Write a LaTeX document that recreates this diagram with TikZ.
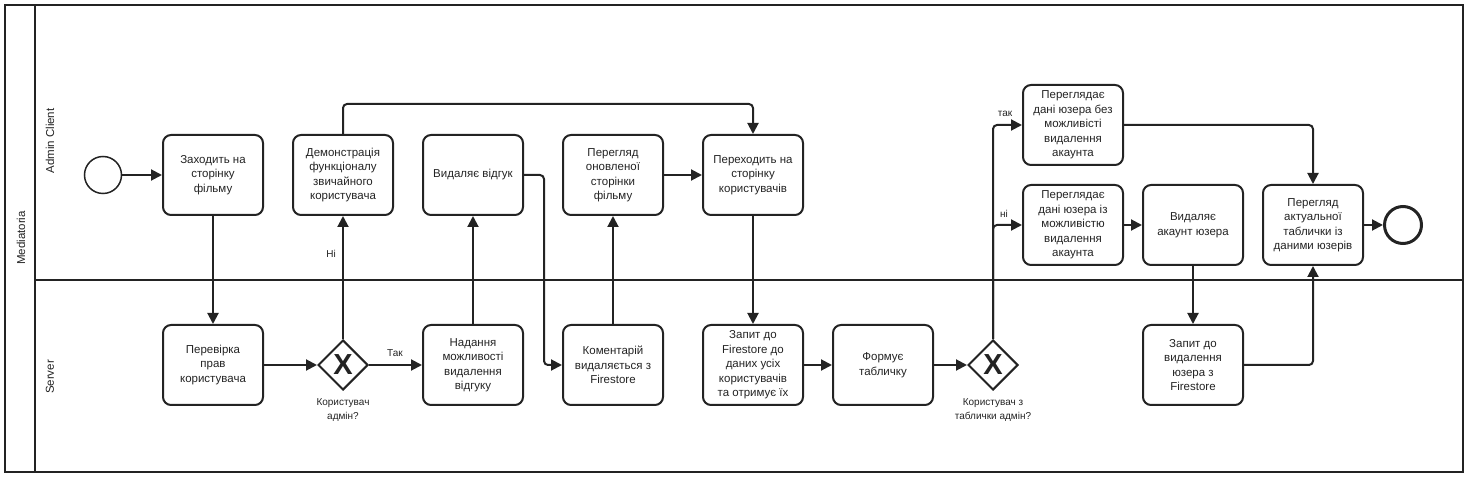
\documentclass[tikz,border=0pt]{standalone}
\usepackage{fontspec}
\setmainfont{Liberation Sans}
\usetikzlibrary{arrows.meta,shapes.geometric}
\definecolor{lc}{RGB}{35,35,35}
\begin{document}
\begin{tikzpicture}[x=1pt,y=-1pt,
  task/.style={draw=lc, line width=2pt, rounded corners=8pt, minimum width=100pt, minimum height=80pt, align=center, font=\fontsize{11.5}{14.5}\selectfont, inner sep=2pt, text=lc},
  gateway/.style={draw=lc, line width=2pt, diamond, aspect=1, minimum size=50pt, inner sep=0pt, font=\fontsize{29}{29}\selectfont\bfseries, text=lc},
  flow/.style={draw=lc, line width=2pt, -{Triangle[length=11pt,width=11pt]}, rounded corners=4pt},
  lbl/.style={font=\fontsize{10}{13.5}\selectfont, align=center, text=lc},
  lanelbl/.style={font=\fontsize{11.5}{13}\selectfont, rotate=90, text=lc},
  frame/.style={draw=lc, line width=2pt}
]
\useasboundingbox (0,0) rectangle (1468,478);
% frame
\draw[frame] (5,5) rectangle (1463,472);
\draw[frame] (35,5) -- (35,472);
\draw[frame] (35,280) -- (1463,280);
\node[lanelbl] (pool) at (21,238) {Mediatoria};
\node[lanelbl] (lane1) at (50,141) {Admin Client};
\node[lanelbl] (lane2) at (50,377) {Server};

% events
\node[draw=lc, line width=1.5pt, circle, minimum size=37pt, inner sep=0pt] (start) at (103,175) {};
\node[draw=lc, line width=3pt, circle, minimum size=37pt, inner sep=0pt] (end) at (1403,225) {};

% admin lane tasks
\node[task] (zah) at (213,175) {Заходить на\\сторінку\\фільму};
\node[task] (demo) at (343,175) {Демонстрація\\функціоналу\\звичайного\\користувача};
\node[task] (vd) at (473,175) {Видаляє відгук};
\node[task] (per) at (613,175) {Перегляд\\оновленої\\сторінки\\фільму};
\node[task] (pc) at (753,175) {Переходить на\\сторінку\\користувачів};
\node[task] (pd1) at (1073,125) {Переглядає\\дані юзера без\\можливісті\\видалення\\акаунта};
\node[task] (pd2) at (1073,225) {Переглядає\\дані юзера із\\можливістю\\видалення\\акаунта};
\node[task] (va) at (1193,225) {Видаляє\\акаунт юзера};
\node[task] (pa) at (1313,225) {Перегляд\\актуальної\\таблички із\\даними юзерів};

% server lane
\node[task] (pp) at (213,365) {Перевірка\\прав\\користувача};
\node[gateway] (gw1) at (343,365) {X};
\node[task] (nad) at (473,365) {Надання\\можливості\\видалення\\відгуку};
\node[task] (kom) at (613,365) {Коментарій\\видаляється з\\Firestore};
\node[task] (zap) at (753,365) {Запит до\\Firestore до\\даних усіх\\користувачів\\та отримує їх};
\node[task] (form) at (883,365) {Формує\\табличку};
\node[gateway] (gw2) at (993,365) {X};
\node[task] (zv) at (1193,365) {Запит до\\видалення\\юзера з\\Firestore};

\node[lbl] (gl1) at (343,410) {Користувач\\адмін?};
\node[lbl] (gl2) at (993,410) {Користувач з\\таблички адмін?};

% flows
\draw[flow] (start) -- (zah);
\draw[flow] (zah) -- (pp);
\draw[flow] (pp) -- (gw1);
\draw[flow] (gw1) -- (nad);
\node[lbl] (tak1) at (395,353) {Так};
\draw[flow] (gw1) -- (demo);
\node[lbl] (ni1) at (331,254) {Ні};
\draw[flow] (demo.north) -- ++(0,-30) -| (pc.north);
\draw[flow] (nad) -- (vd);
\draw[flow] (vd.east) -- ++(20,0) |- (kom.west);
\draw[flow] (kom) -- (per);
\draw[flow] (per) -- (pc);
\draw[flow] (pc) -- (zap);
\draw[flow] (zap) -- (form);
\draw[flow] (form) -- (gw2);
\draw[flow] (gw2.north) |- (pd1.west);
\draw[flow] (gw2.north) |- (pd2.west);
\node[lbl] (tak2) at (1005,114) {так};
\node[lbl] (ni2) at (1004,214) {ні};
\draw[flow] (pd2) -- (va);
\draw[flow] (va) -- (zv);
\draw[flow] (zv.east) -| (pa.south);
\draw[flow] (pd1.east) -| (pa.north);
\draw[flow] (pa) -- (end);
\end{tikzpicture}
\end{document}
